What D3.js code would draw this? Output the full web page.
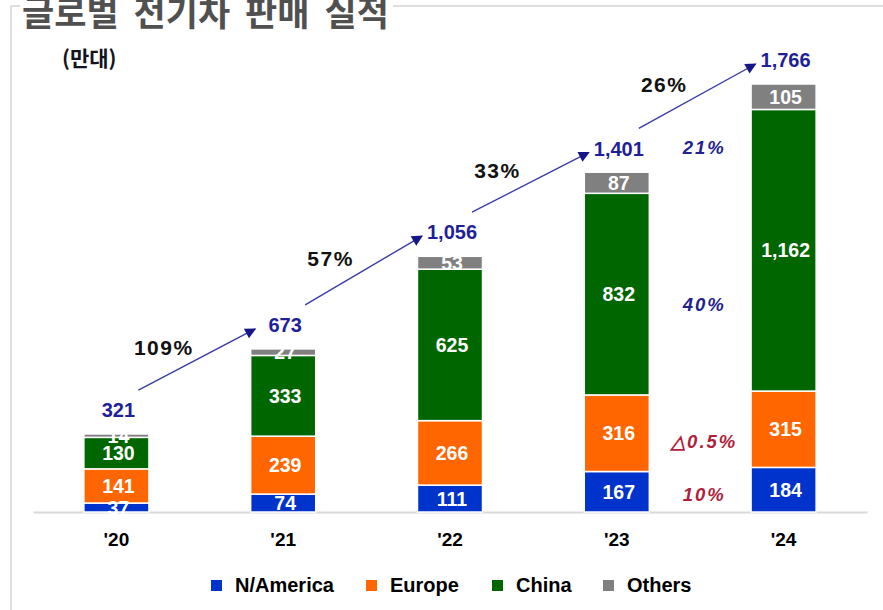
<!DOCTYPE html>
<html><head><meta charset="utf-8">
<script src="https://cdn.jsdelivr.net/npm/d3@7"></script>
<style>html,body{margin:0;padding:0;background:#fff;} svg{display:block;}</style>
</head><body><svg id="c" width="883" height="610"></svg>
<script>
// ---- data ----
const years = ["'20", "'21", "'22", "'23", "'24"];
const seriesNames = ["N/America", "Europe", "China", "Others"];
const nAmerica = [37, 74, 111, 167, 184];
const europe = [141, 239, 266, 316, 315];
const china = [130, 333, 625, 832, 1162];
const others = [14, 27, 53, 87, 105];
const totals = [321, 673, 1056, 1401, 1766];
const growthLabels = ["109%", "57%", "33%", "26%"];
const shareLabels = ["10%", "△0.5%", "40%", "21%"];   // '23 -> '24 by region
const titleText = "글로벌 전기차 판매 실적";
const unitText = "(만대)";

// ---- style / layout ----
const colors = ["#0033cc", "#ff6600", "#006600", "#808080"];
const shareColors = ["#b01e3c", "#b01e3c", "#22228f", "#22228f"];
const shareNudge = [4, 10, 32, 8];
const numFont = "Arial, 'Liberation Sans', sans-serif";
const krFont = "'Noto Sans CJK KR', 'Noto Sans', sans-serif";

const svg = d3.select("#c");
const W = 883, H = 610;

const x = d3.scaleBand().domain(years).range([33, 867]).paddingInner(0.61).paddingOuter(0.305);
const y = d3.scaleLinear().domain([0, 1766]).range([512, 84]);
const xc = d => x(d) + x.bandwidth() / 2;

// frame
svg.append("line").attr("x1", 11).attr("x2", 11).attr("y1", 6).attr("y2", H)
  .attr("stroke", "#dedede").attr("stroke-width", 2);
svg.append("line").attr("x1", 11).attr("x2", W).attr("y1", 6).attr("y2", 6)
  .attr("stroke", "#dedede").attr("stroke-width", 2);

// title
const title = svg.append("text").attr("x", 22).attr("y", 26)
  .attr("font-family", krFont).attr("font-weight", 700).attr("font-size", 35)
  .attr("word-spacing", 7)
  .attr("fill", "#505050").text(titleText);
const tb = title.node().getBBox();
svg.insert("rect", "text").attr("x", tb.x - 2).attr("y", 0).attr("width", tb.width + 6).attr("height", 14).attr("fill", "#fff");

svg.append("text").attr("x", 62).attr("y", 66)
  .attr("font-family", krFont).attr("font-weight", 700).attr("font-size", 21)
  .attr("fill", "#141420").text(unitText);

// stack
const rows = years.map((yr, i) => ({year: yr, "N/America": nAmerica[i], "Europe": europe[i], "China": china[i], "Others": others[i]}));
const stack = d3.stack().keys(seriesNames)(rows);

// axis baseline
const xAxis = d3.axisBottom(x).tickSize(0).tickPadding(21);
const gx = svg.append("g").attr("transform", "translate(0,512)").call(xAxis);
gx.select(".domain").attr("stroke", "#d9d9d9").attr("stroke-width", 2);
gx.selectAll("text").attr("font-family", numFont).attr("font-weight", 700)
  .attr("font-size", 19).attr("fill", "#000");

// bars
const g = svg.append("g");
stack.forEach((s, si) => {
  g.selectAll(null).data(s).enter().append("rect")
    .attr("x", d => x(d.data.year))
    .attr("y", d => y(d[1]))
    .attr("width", x.bandwidth())
    .attr("height", d => y(d[0]) - y(d[1]))
    .attr("fill", colors[si])
    .attr("stroke", "#fff").attr("stroke-width", 1.5);
});
const fmt = d3.format(",");
stack.forEach((s, si) => {
  g.selectAll(null).data(s).enter().append("text")
    .attr("x", d => xc(d.data.year) + 2)
    .attr("y", d => (y(d[0]) + y(d[1])) / 2)
    .attr("dy", "0.36em")
    .attr("text-anchor", "middle")
    .attr("font-family", numFont).attr("font-weight", 700).attr("font-size", 19.5)
    .attr("fill", "#fff")
    .text(d => fmt(d[1] - d[0]));
});

// totals
svg.selectAll(null).data(totals).enter().append("text")
  .attr("x", (d, i) => xc(years[i]) + 2)
  .attr("y", d => y(d) - 24)
  .attr("dy", "0.36em")
  .attr("text-anchor", "middle")
  .attr("font-family", numFont).attr("font-weight", 700).attr("font-size", 20)
  .attr("fill", "#1f1f99")
  .text(d => fmt(d));

// arrows
const defs = svg.append("defs");
defs.append("marker").attr("id", "ah").attr("viewBox", "0 0 10 10")
  .attr("refX", 9).attr("refY", 5).attr("markerWidth", 13).attr("markerHeight", 11)
  .attr("markerUnits", "userSpaceOnUse").attr("orient", "auto")
  .append("path").attr("d", "M0,0 L10,5 L0,10 z").attr("fill", "#16168a");

growthLabels.forEach((lab, i) => {
  const x1 = xc(years[i]) + 22, y1 = y(totals[i]) - 44;
  const x2 = xc(years[i + 1]) - 28, y2 = y(totals[i + 1]) - 20;
  svg.append("line").attr("x1", x1).attr("y1", y1).attr("x2", x2).attr("y2", y2)
    .attr("stroke", "#3a3aa8").attr("stroke-width", 1.4).attr("marker-end", "url(#ah)");
  svg.append("text").attr("x", (x1 + x2) / 2 - 33).attr("y", (y1 + y2) / 2 - 12)
    .attr("dy", "0.36em").attr("text-anchor", "middle")
    .attr("font-family", numFont).attr("font-weight", 700).attr("font-size", 21)
    .attr("letter-spacing", 1.5)
    .attr("fill", "#111").text(lab);
});

// share labels between '23 and '24
const sx = (xc(years[3]) + xc(years[4])) / 2 + 4;
shareLabels.forEach((lab, si) => {
  const a = stack[si][3], b = stack[si][4];
  const cy = ((y(a[0]) + y(a[1])) / 2 + (y(b[0]) + y(b[1])) / 2) / 2 + shareNudge[si];
  svg.append("text").attr("x", sx).attr("y", cy).attr("dy", "0.36em")
    .attr("text-anchor", "middle")
    .attr("font-family", numFont).attr("font-weight", 700).attr("font-style", "italic")
    .attr("font-size", 18.5).attr("letter-spacing", 2)
    .attr("fill", shareColors[si]).text(lab);
});

// legend
const legX = [211, 366, 492, 603];
const leg = svg.append("g");
seriesNames.forEach((n, i) => {
  leg.append("rect").attr("x", legX[i]).attr("y", 580).attr("width", 11).attr("height", 11).attr("fill", colors[i]);
  leg.append("text").attr("x", legX[i] + 24).attr("y", 585).attr("dy", "0.36em")
    .attr("font-family", numFont).attr("font-weight", 700).attr("font-size", 20)
    .attr("fill", "#000").text(n);
});
</script>
</body></html>
